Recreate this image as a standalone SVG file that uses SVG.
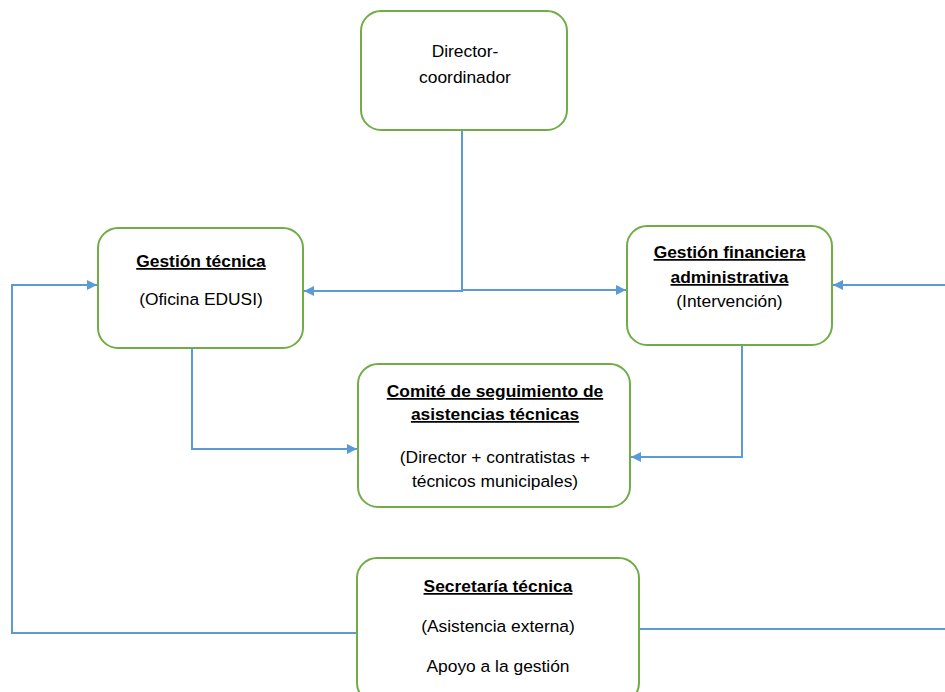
<svg xmlns="http://www.w3.org/2000/svg" width="945" height="692" viewBox="0 0 945 692">
<defs>
<marker id="ah" viewBox="0 0 10 10" refX="10" refY="5" markerWidth="10" markerHeight="10" markerUnits="userSpaceOnUse" orient="auto">
<path d="M0,0 L10,5 L0,10 z" fill="#5B9BD5"/>
</marker>
<style>
.box{fill:#fff;stroke:#70AD47;stroke-width:2}
.t{font-family:"Liberation Sans",Arial,sans-serif;font-size:17.4px;fill:#000;text-anchor:middle}
.b{font-weight:bold;text-decoration:underline}
.c{fill:none;stroke:#5B9BD5;stroke-width:2}
</style>
</defs>
<rect width="945" height="692" fill="#fff"/>
<g id="connectors">
<path class="c" d="M462,130 V291 H304" marker-end="url(#ah)"/>
<path class="c" d="M462,290 H626" marker-end="url(#ah)"/>
<path class="c" d="M192,348 V449 H357" marker-end="url(#ah)"/>
<path class="c" d="M742,345 V457 H631" marker-end="url(#ah)"/>
<path class="c" d="M357,633 H12 V285 H97" marker-end="url(#ah)"/>
<path class="c" d="M639,629 H945"/>
<path class="c" d="M945,285 H833" marker-end="url(#ah)"/>
</g>
<g id="director">
<rect class="box" x="361" y="11" width="206" height="119" rx="20"/>
<text class="t" x="465" y="57">Director-</text>
<text class="t" x="465" y="83">coordinador</text>
</g>
<g id="gestion-tecnica">
<rect class="box" x="98" y="228" width="205" height="120" rx="20"/>
<text class="t b" x="201" y="267">Gestión técnica</text>
<text class="t" x="201" y="305">(Oficina EDUSI)</text>
</g>
<g id="gestion-financiera">
<rect class="box" x="627" y="226" width="205" height="119" rx="20"/>
<text class="t b" x="729.5" y="258">Gestión financiera</text>
<text class="t b" x="729.5" y="283">administrativa</text>
<text class="t" x="729.5" y="307">(Intervención)</text>
</g>
<g id="comite">
<rect class="box" x="358" y="364" width="272" height="143" rx="20"/>
<text class="t b" x="495" y="397">Comité de seguimiento de</text>
<text class="t b" x="495" y="420">asistencias técnicas</text>
<text class="t" x="495" y="463">(Director + contratistas +</text>
<text class="t" x="495" y="487">técnicos municipales)</text>
</g>
<g id="secretaria">
<rect class="box" x="357" y="558" width="282" height="145" rx="20"/>
<text class="t b" x="498" y="592">Secretaría técnica</text>
<text class="t" x="498" y="632">(Asistencia externa)</text>
<text class="t" x="498" y="672">Apoyo a la gestión</text>
</g>
</svg>
